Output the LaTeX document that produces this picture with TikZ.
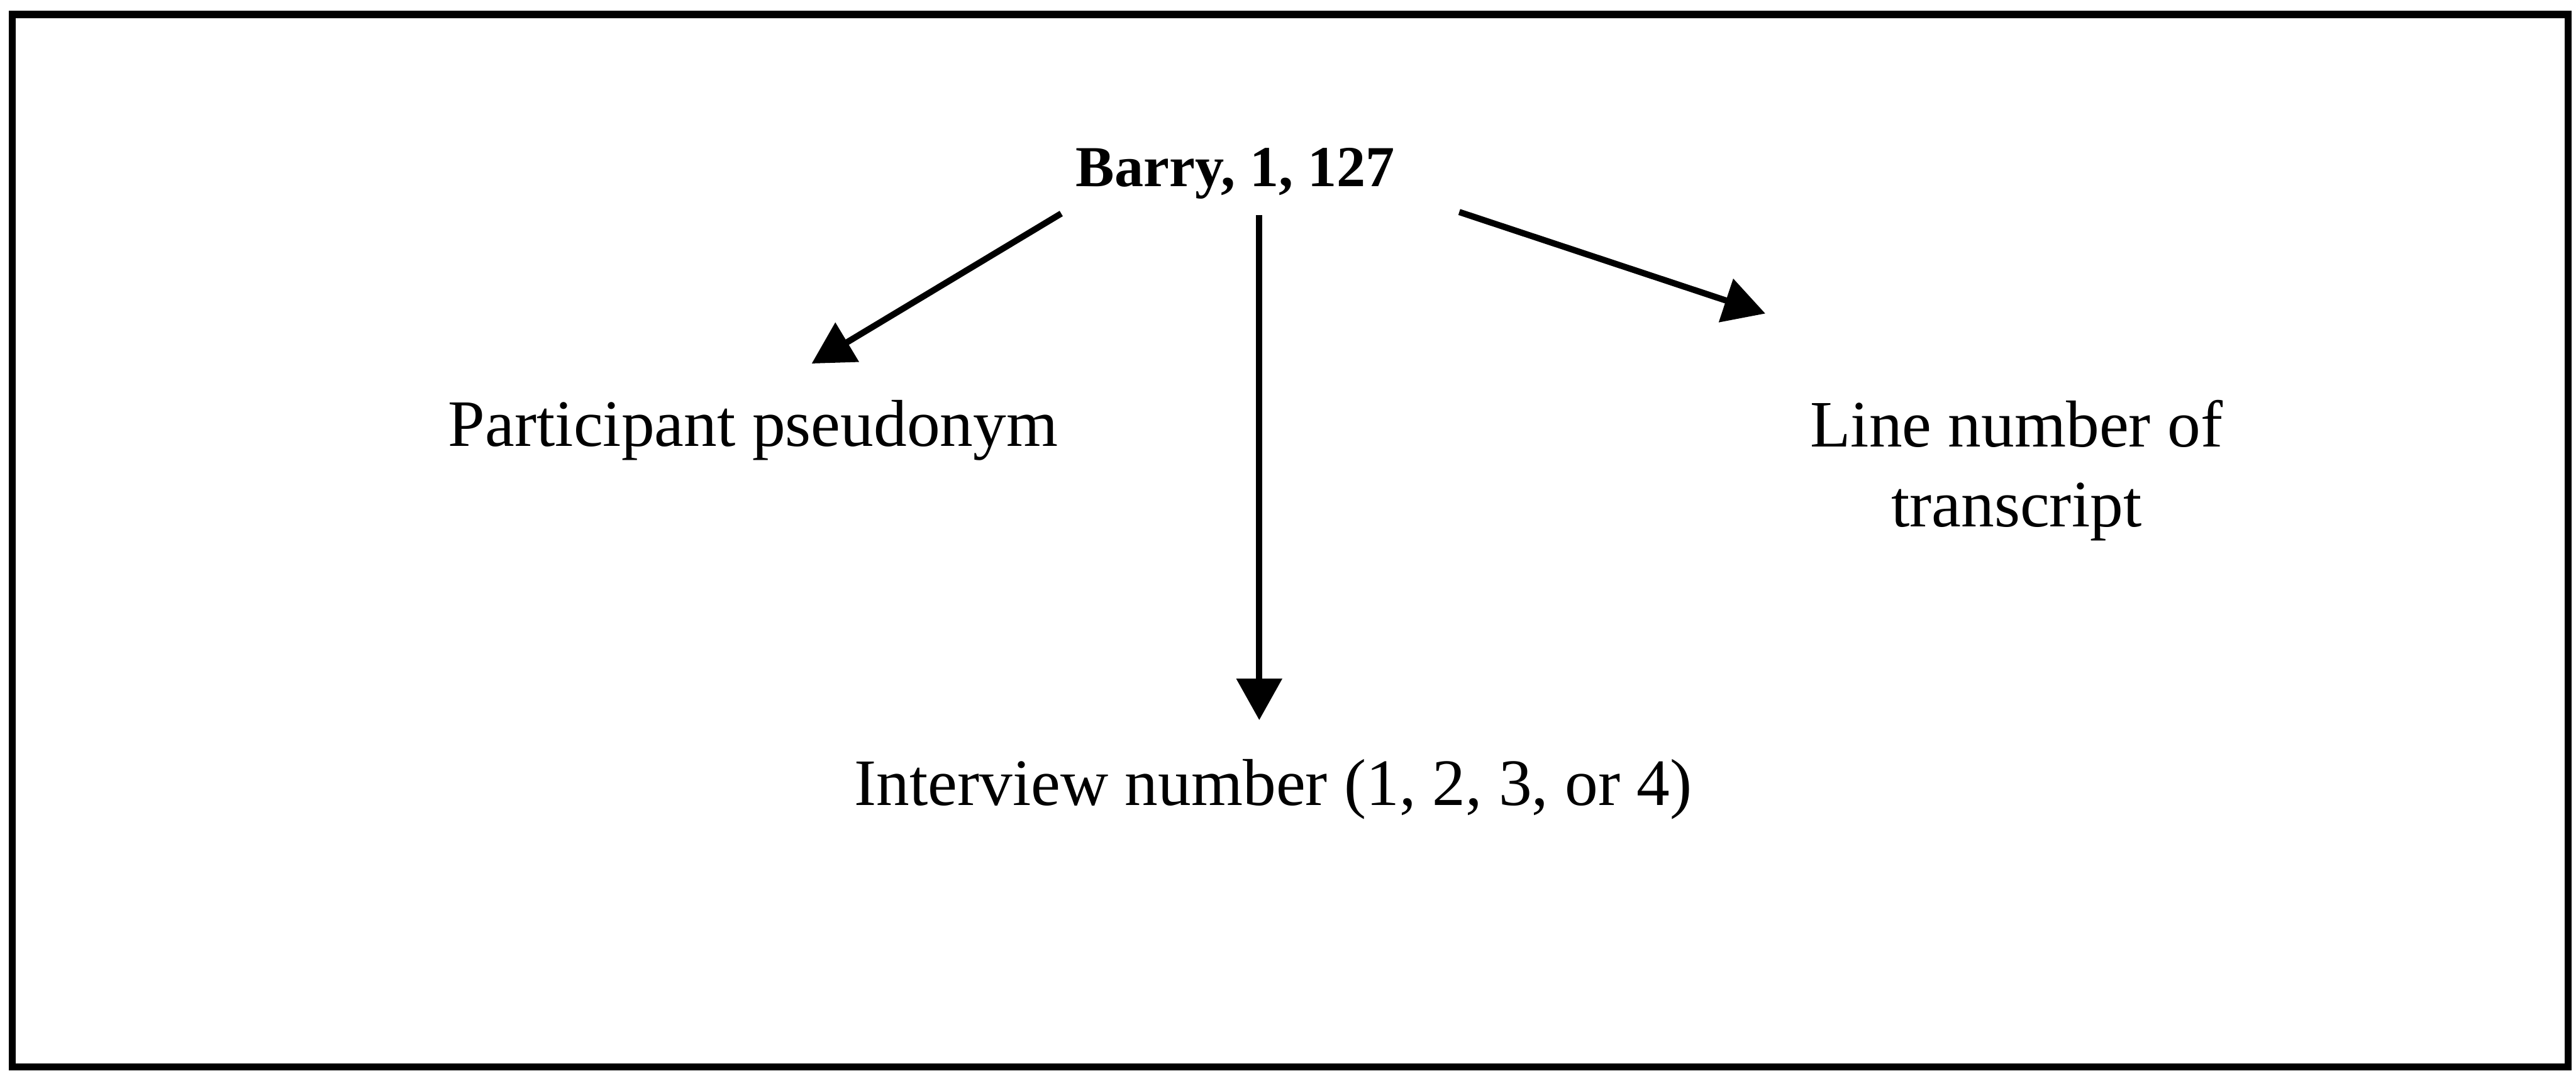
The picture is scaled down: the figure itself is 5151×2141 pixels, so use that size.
\documentclass[tikz,border=0pt]{standalone}
\usepackage{fontspec}
\setmainfont{Liberation Serif}
\usetikzlibrary{arrows.meta}

\tikzset{
  lbl/.style={inner sep=0pt, anchor=base, font=\fontsize{13.26}{16}\selectfont},
  key/.style={inner sep=0pt, anchor=base, font=\fontsize{11.6}{14}\selectfont\bfseries},
  pointer/.style={line width=1.25pt, -{Triangle[length=8.3pt,width=8.9pt]}},
  frame/.style={line width=1.4pt}
}

\begin{document}
\begin{tikzpicture}[x=0.1pt, y=-0.1pt]
  \useasboundingbox (0,0) rectangle (5151,2141);

  % outer border
  \draw[frame] (25,29) rectangle (5135,2134);

  % reference code and its three parts
  \node[key] (code) at (2470,373) {Barry, 1, 127};
  \node[lbl] (pseud) at (1506,892) {Participant pseudonym};
  \node[lbl] (line) at (4032,893) {\begin{tabular}[t]{@{}c@{}}Line number of\\transcript\end{tabular}};
  \node[lbl] (interview) at (2546,1610) {Interview number (1, 2, 3, or 4)};

  % pointers from the code to each explanation
  \draw[pointer] ([shift={(-348,54)}]code.base) -- ([shift={(117,-165)}]pseud.base);
  \draw[pointer] ([shift={(48,57)}]code.base) -- ([shift={(-28,-170)}]interview.base);
  \draw[pointer] ([shift={(448,51)}]code.base) -- ([shift={(-502,-266)}]line.base);
\end{tikzpicture}
\end{document}
